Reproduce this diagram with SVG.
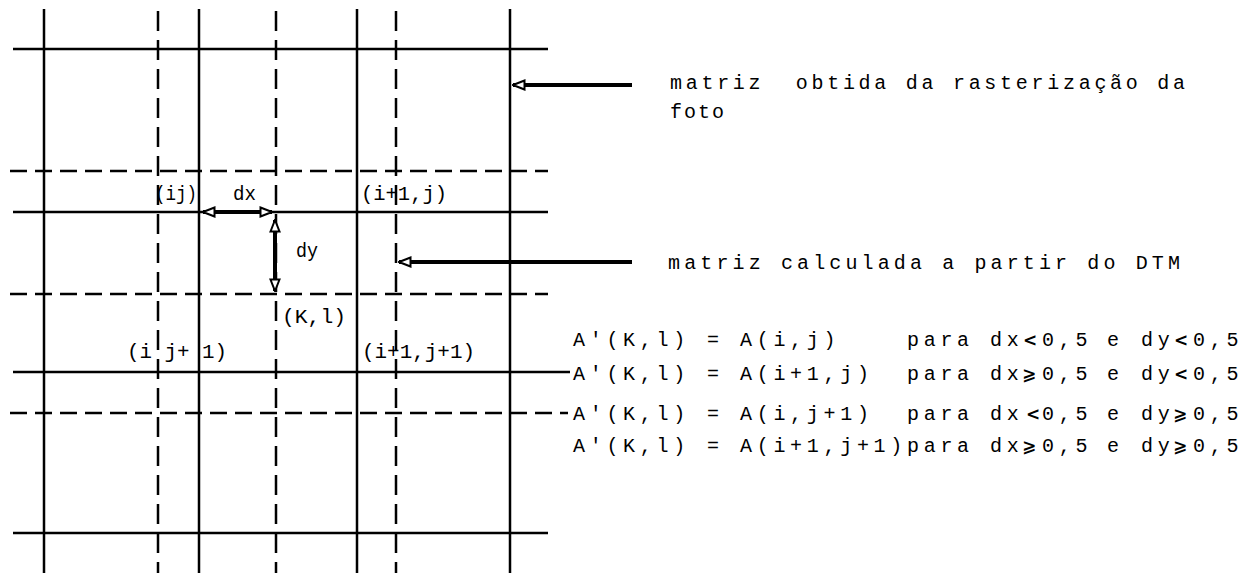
<svg xmlns="http://www.w3.org/2000/svg" width="1245" height="573" viewBox="0 0 1245 573">
<style>
.s{stroke:#000;stroke-width:2.5;fill:none}
.dh{stroke:#000;stroke-width:2.5;stroke-dasharray:17 8;fill:none}
.dv{stroke:#000;stroke-width:2.5;stroke-dasharray:20 9;fill:none}
.arr{stroke:#000;stroke-width:4;fill:none}
text{font-family:"Liberation Mono","DejaVu Sans Mono",monospace;font-size:20px;fill:#000}
.eq{letter-spacing:4.7px}
.sy{letter-spacing:0;font-family:"DejaVu Sans","Liberation Sans",sans-serif;font-size:17px;font-weight:bold}
</style>
<defs>
<marker id="ah" viewBox="0 0 14 12" refX="13" refY="6" markerWidth="14" markerHeight="12" markerUnits="userSpaceOnUse" orient="auto-start-reverse">
<path d="M1.5,1.5 L13,6 L1.5,10.5 Z" fill="#fff" stroke="#000" stroke-width="2"/>
</marker>
</defs>
<rect width="1245" height="573" fill="#fff"/>
<g id="grid">
<line class="s" x1="44" y1="9" x2="44" y2="573"/>
<line class="s" x1="199" y1="9" x2="199" y2="573"/>
<line class="s" x1="357" y1="9" x2="357" y2="573"/>
<line class="s" x1="510" y1="9" x2="510" y2="573"/>
<line class="dv" x1="158" y1="11" x2="158" y2="573"/>
<line class="dv" x1="276" y1="11" x2="276" y2="573"/>
<line class="dv" x1="396" y1="11" x2="396" y2="573"/>
<line class="s" x1="13" y1="49" x2="548" y2="49"/>
<line class="s" x1="13" y1="212" x2="548" y2="212"/>
<line class="s" x1="13" y1="372" x2="570" y2="372"/>
<line class="s" x1="13" y1="533" x2="548" y2="533"/>
<line class="dh" x1="10" y1="171" x2="548" y2="171"/>
<line class="dh" x1="10" y1="294" x2="548" y2="294"/>
<line class="dh" x1="10" y1="413" x2="568" y2="413"/>
</g>
<g id="connectors">
<line class="arr" x1="632" y1="85" x2="513" y2="85" marker-end="url(#ah)"/>
<line class="arr" x1="632" y1="262" x2="399" y2="262" marker-end="url(#ah)"/>
<line class="arr" x1="203" y1="212" x2="272" y2="212" marker-start="url(#ah)" marker-end="url(#ah)"/>
<line class="arr" x1="275" y1="220" x2="275" y2="291" marker-start="url(#ah)" marker-end="url(#ah)"/>
</g>
<g id="labels">
<text x="155" y="200" textLength="42" lengthAdjust="spacingAndGlyphs">(ij)</text>
<text x="233" y="200" textLength="23" lengthAdjust="spacingAndGlyphs">dx</text>
<text x="361" y="200" textLength="86" lengthAdjust="spacingAndGlyphs">(i+1,j)</text>
<text x="296" y="257" textLength="22" lengthAdjust="spacingAndGlyphs">dy</text>
<text x="282" y="323" textLength="64" lengthAdjust="spacingAndGlyphs">(K,l)</text>
<text x="127" y="358" textLength="100" lengthAdjust="spacingAndGlyphs" xml:space="preserve">(i j+ 1)</text>
<text x="362" y="358" textLength="113" lengthAdjust="spacingAndGlyphs">(i+1,j+1)</text>
</g>
<g id="note-photo">
<text x="670" y="89" textLength="515" lengthAdjust="spacing" xml:space="preserve">matriz  obtida da rasterização da</text>
<text x="670" y="118" textLength="54" lengthAdjust="spacing">foto</text>
</g>
<g id="note-dtm">
<text x="668" y="269" textLength="512" lengthAdjust="spacing">matriz calculada a partir do DTM</text>
</g>
<g id="equations" class="eq">
<text y="346"><tspan x="573">A'(K,l)</tspan><tspan x="707">=</tspan><tspan x="740">A(i,j)</tspan><tspan x="907">para</tspan><tspan x="990">dx</tspan><tspan class="sy" x="1023">&lt;</tspan><tspan x="1042">0,5</tspan><tspan x="1107">e</tspan><tspan x="1141">dy</tspan><tspan class="sy" x="1174">&lt;</tspan><tspan x="1193">0,5</tspan></text>
<text y="380"><tspan x="573">A'(K,l)</tspan><tspan x="707">=</tspan><tspan x="740">A(i+1,j)</tspan><tspan x="907">para</tspan><tspan x="990">dx</tspan><tspan class="sy" x="1022">⩾</tspan><tspan x="1042">0,5</tspan><tspan x="1107">e</tspan><tspan x="1141">dy</tspan><tspan class="sy" x="1174">&lt;</tspan><tspan x="1193">0,5</tspan></text>
<text y="420"><tspan x="573">A'(K,l)</tspan><tspan x="707">=</tspan><tspan x="740">A(i,j+1)</tspan><tspan x="907">para</tspan><tspan x="990">dx</tspan><tspan class="sy" x="1026">&lt;</tspan><tspan x="1042">0,5</tspan><tspan x="1107">e</tspan><tspan x="1141">dy</tspan><tspan class="sy" x="1173">⩾</tspan><tspan x="1193">0,5</tspan></text>
<text y="452"><tspan x="573">A'(K,l)</tspan><tspan x="707">=</tspan><tspan x="740">A(i+1,j+1)</tspan><tspan x="907">para</tspan><tspan x="990">dx</tspan><tspan class="sy" x="1022">⩾</tspan><tspan x="1042">0,5</tspan><tspan x="1107">e</tspan><tspan x="1141">dy</tspan><tspan class="sy" x="1173">⩾</tspan><tspan x="1193">0,5</tspan></text>
</g>
</svg>
